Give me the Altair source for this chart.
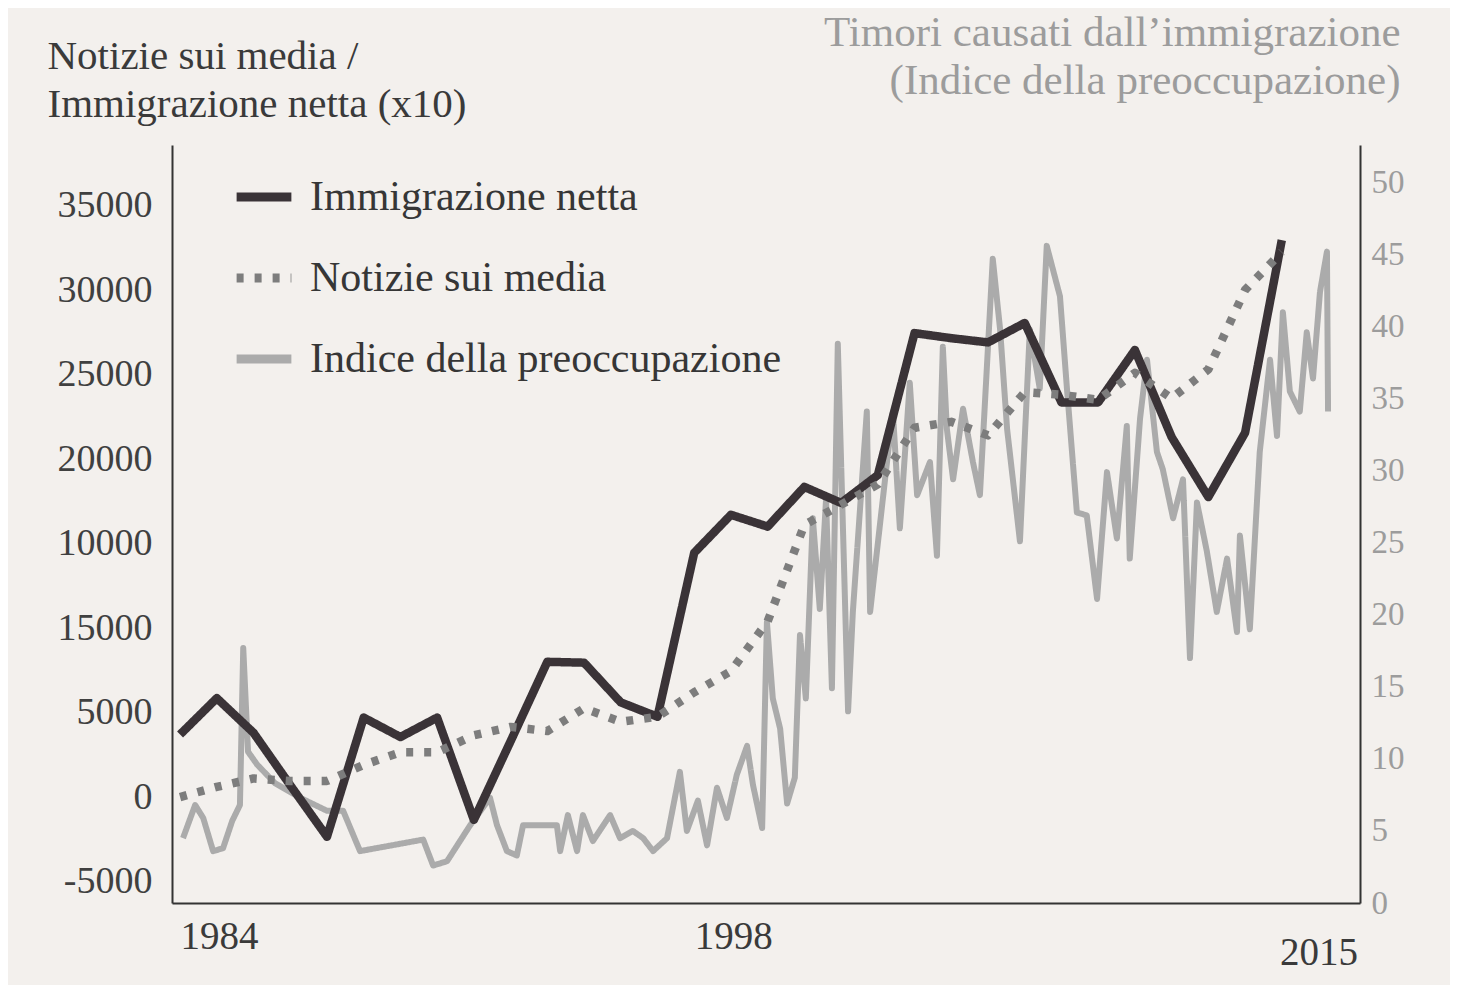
import altair as alt
import pandas as pd

# ---- data ----
anni = list(range(1984, 2015))
immigrazione_netta = [3700, 5850, 3800, 700, -2350, 4700, 3550, 4700, -1350, 3300,
                      8000, 7950, 5600, 4750, 14450, 16700, 16000, 18350, 17400, 19050,
                      27450, 27150, 26900, 28050, 23350, 23350, 26450, 21300, 17750, 21550,
                      32950]
notizie_media = [0, 600, 1100, 950, 950, 1900, 2650, 2650, 3650, 4150,
                 3900, 5250, 4450, 4750, 6200, 7450, 10400, 16100, 17300, 18500,
                 21850, 22200, 21400, 23950, 23800, 23500, 25100, 23600, 25300, 30000,
                 32250]
anni_indice = [1984.08, 1984.41, 1984.63, 1984.90, 1985.17, 1985.42, 1985.63, 1985.72, 1985.85, 1986.10,
               1986.59, 1987.27, 1988.00, 1988.44, 1988.90, 1990.62, 1990.89, 1991.27, 1991.90, 1992.44,
               1992.63, 1992.90, 1993.17, 1993.34, 1993.88, 1994.26, 1994.35, 1994.56, 1994.81, 1994.97,
               1995.24, 1995.71, 1995.98, 1996.33, 1996.61, 1996.88, 1997.26, 1997.61, 1997.80, 1998.10,
               1998.35, 1998.62, 1998.89, 1999.16, 1999.44, 1999.60, 1999.85, 1999.98, 2000.14, 2000.34,
               2000.53, 2000.74, 2000.88, 2001.04, 2001.23, 2001.42, 2001.59, 2001.75, 2001.91, 2002.19,
               2002.32, 2002.70, 2002.79, 2003.25, 2003.41, 2003.60, 2003.87, 2004.07, 2004.42, 2004.61,
               2004.77, 2004.88, 2005.05, 2005.32, 2005.59, 2005.78, 2006.13, 2006.33, 2006.52, 2006.87,
               2007.14, 2007.41, 2007.60, 2007.96, 2008.15, 2008.42, 2008.69, 2008.97, 2009.24, 2009.51,
               2009.78, 2009.86, 2010.14, 2010.33, 2010.60, 2010.76, 2011.04, 2011.31, 2011.50, 2011.69,
               2011.96, 2012.23, 2012.51, 2012.78, 2012.86, 2013.13, 2013.40, 2013.68, 2013.87, 2014.03,
               2014.22, 2014.49, 2014.68, 2014.85, 2015.04, 2015.23, 2015.26]
indice_preoccupazione = [4.5, 6.8, 5.9, 3.6, 3.8, 5.7, 6.8, 17.7, 10.5, 9.6,
                         8.3, 7.3, 6.4, 6.4, 3.6, 4.4, 2.6, 2.9, 5.4, 7.3,
                         5.4, 3.6, 3.3, 5.4, 5.4, 5.4, 3.6, 6.1, 3.6, 6.1,
                         4.3, 6.1, 4.5, 5.0, 4.5, 3.6, 4.5, 9.1, 5.0, 7.1,
                         4.0, 8.0, 5.9, 8.9, 10.9, 8.2, 5.2, 19.5, 14.2, 12.1,
                         6.9, 8.7, 18.6, 14.2, 26.7, 20.4, 28.0, 14.9, 38.8, 13.3,
                         20.2, 34.1, 20.2, 30.6, 34.1, 26.0, 36.1, 28.3, 30.6, 24.1,
                         38.6, 32.9, 29.4, 34.3, 30.6, 28.3, 44.7, 39.8, 32.9, 25.1,
                         39.8, 35.7, 45.6, 42.1, 35.7, 27.1, 26.9, 21.1, 29.9, 25.3,
                         33.1, 23.9, 33.6, 37.7, 31.3, 30.1, 26.7, 29.4, 17.0, 27.8,
                         24.4, 20.2, 23.9, 18.8, 25.5, 19.0, 31.3, 37.7, 32.4, 41.0,
                         35.5, 34.1, 39.6, 36.4, 42.4, 45.2, 34.1]
serie_nomi = ["Immigrazione netta", "Notizie sui media", "Indice della preoccupazione"]
tick_sinistra = [-5000, 0, 5000, 10000, 15000, 20000, 25000, 30000, 35000]
tick_destra = [0, 5, 10, 15, 20, 25, 30, 35, 40, 45, 50]
tick_anni = [1984, 1998, 2015]
titolo_sinistra = ["Notizie sui media /", "Immigrazione netta (x10)"]
titolo_destra = ["Timori causati dall\u2019immigrazione", "(Indice della preoccupazione)"]

df_sx = pd.DataFrame({
    "anno": anni + anni,
    "valore": immigrazione_netta + notizie_media,
    "serie": [serie_nomi[0]] * len(anni) + [serie_nomi[1]] * len(anni),
})
df_dx = pd.DataFrame({
    "anno": anni_indice,
    "valore": indice_preoccupazione,
    "serie": [serie_nomi[2]] * len(anni_indice),
})

FONT = "Liberation Serif"
DARK = "#3a3a3a"
GREY_TXT = "#9c9c9c"

color_scale = alt.Scale(domain=serie_nomi, range=["#3a3337", "#7d7d7d", "#ababab"])
dash_scale = alt.Scale(domain=serie_nomi, range=[[1, 0], [7, 11], [1, 0]])

legend = alt.Legend(title=None, orient="none", legendX=60, legendY=20,
                    symbolType="stroke", symbolSize=3000, symbolStrokeWidth=9,
                    labelFont=FONT, labelFontSize=42, labelColor="#363636",
                    labelOffset=14, rowPadding=28, labelLimit=0)

x_enc = alt.X("anno:Q",
              scale=alt.Scale(domain=[1983.78, 2016.13], nice=False, zero=False),
              axis=alt.Axis(values=tick_anni, format="d", title=None, ticks=False, grid=False,
                            labelFont=FONT, labelFontSize=39, labelColor=DARK,
                            labelPadding={"condition": {"test": "datum.value == 2015", "value": 30},
                                          "value": 14},
                            labelFlush=False, domainColor="#333333", domainWidth=2,
                            labelAlign={"condition": {"test": "datum.value == 2015", "value": "center"},
                                        "value": "left"}))

col_enc = alt.Color("serie:N", scale=color_scale, legend=legend)
dash_enc = alt.StrokeDash("serie:N", scale=dash_scale, legend=legend)

indice = alt.Chart(df_dx).mark_line(strokeWidth=6, strokeJoin="round").encode(
    x=x_enc,
    y=alt.Y("valore:Q", scale=alt.Scale(domain=[0, 52.6], nice=False, zero=False),
            axis=alt.Axis(orient="right", values=tick_destra, ticks=False, grid=False,
                          labelFont=FONT, labelFontSize=33, labelColor=GREY_TXT, labelPadding=11,
                          domainColor="#333333", domainWidth=2,
                          title=titolo_destra, titleAngle=0, titleAlign="right",
                          titleBaseline="alphabetic", titleX=40, titleY=-100,
                          titleFont=FONT, titleFontSize=43, titleFontWeight="normal",
                          titleColor=GREY_TXT, titleLineHeight=48)),
    color=col_enc,
    strokeDash=dash_enc,
)

sinistra = alt.Chart(df_sx).mark_line(strokeWidth=8.5, strokeJoin="round").encode(
    x=x_enc,
    y=alt.Y("valore:Q", scale=alt.Scale(domain=[-6270, 38580], nice=False, zero=False),
            axis=alt.Axis(orient="left", values=tick_sinistra, ticks=False, grid=False,
                          labelExpr="'' + (datum.value == 15000 ? 10000 : (datum.value == 10000 ? 15000 : datum.value))",
                          labelFont=FONT, labelFontSize=38, labelColor="#404040", labelPadding=20,
                          domainColor="#333333", domainWidth=2,
                          title=titolo_sinistra, titleAngle=0, titleAlign="left",
                          titleBaseline="alphabetic", titleX=-125, titleY=-77,
                          titleFont=FONT, titleFontSize=41, titleFontWeight="normal",
                          titleColor=DARK, titleLineHeight=48)),
    color=col_enc,
    strokeDash=dash_enc,
)

chart = alt.layer(indice, sinistra).resolve_scale(y="independent").properties(
    width=1188, height=758,
    autosize=alt.AutoSizeParams(type="none"),
    padding={"left": 164, "top": 137, "right": 90, "bottom": 82},
    background="#f3f0ed",
).configure_view(stroke=None)

chart.save("out.html", embed_options={"renderer": "svg", "actions": False})
